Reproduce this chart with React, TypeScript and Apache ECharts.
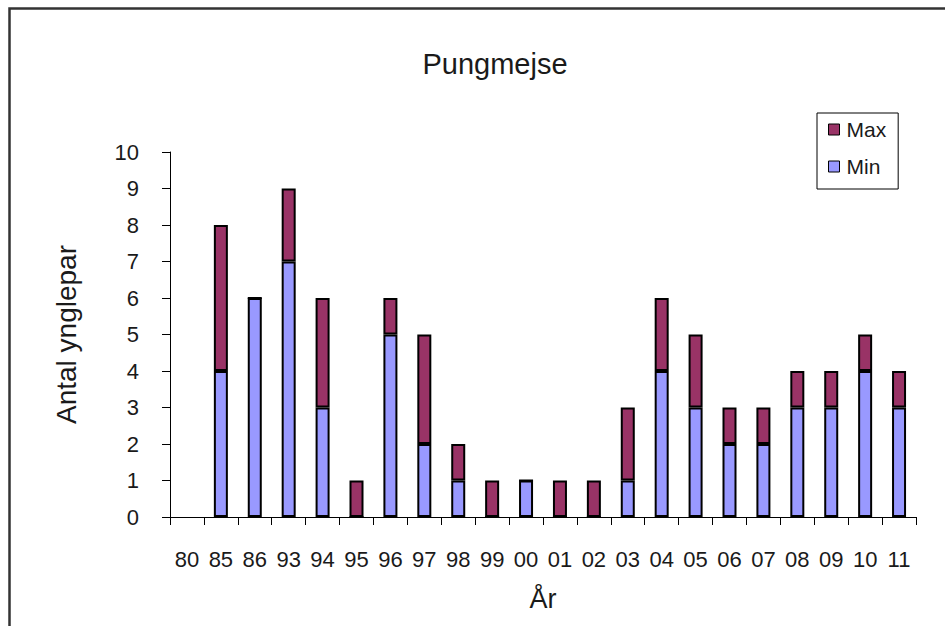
import React, { useEffect, useRef } from "react";
import * as echarts from "echarts";

const years = ["80", "85", "86", "93", "94", "95", "96", "97", "98", "99", "00", "01", "02", "03", "04", "05", "06", "07", "08", "09", "10", "11"];
const minValues = [null, 4, 6, 7, 3, 0, 5, 2, 1, 0, 1, 0, 0, 1, 4, 3, 2, 2, 3, 3, 4, 3];
const maxExtra = [null, 4, 0, 2, 3, 1, 1, 3, 1, 1, 0, 1, 1, 2, 2, 2, 1, 1, 1, 1, 1, 1];
const yTicks = [0, 10, 1];

const MAX_COLOR = "#993366";
const MIN_COLOR = "#9999FF";
const FONT = "'Liberation Sans', Arial, sans-serif";

export default function App() {
  const ref = useRef<HTMLDivElement>(null);
  useEffect(() => {
    if (!ref.current) return;
    const chart = echarts.init(ref.current, null, { renderer: "svg" });
    chart.setOption({
      animation: false,
      backgroundColor: "#ffffff",
      textStyle: { fontFamily: FONT },
      title: {
        text: "Pungmejse",
        left: 490,
        top: 44,
        textAlign: "center",
        textStyle: { fontFamily: FONT, fontSize: 29, fontWeight: "normal", color: "#1a1a1a" },
      },
      legend: {
        orient: "vertical",
        left: 817,
        top: 113,
        padding: [6, 12, 12, 11],
        itemGap: 16,
        itemWidth: 11,
        itemHeight: 11,
        itemStyle: { borderColor: "#000", borderWidth: 1 },
        icon: "rect",
        borderColor: "#000",
        borderWidth: 1,
        backgroundColor: "#fff",
        data: ["Max", "Min"],
        textStyle: { fontFamily: FONT, fontSize: 21, lineHeight: 20, color: "#1a1a1a", padding: [0, 0, 0, 2] },
      },
      grid: { left: 170, right: 29, top: 152, bottom: 109, containLabel: false },
      xAxis: {
        type: "category",
        data: years,
        boundaryGap: true,
        name: "År",
        nameLocation: "middle",
        nameGap: 68,
        nameTextStyle: { fontFamily: FONT, fontSize: 27, color: "#1a1a1a" },
        axisLine: { lineStyle: { color: "#000", width: 1 } },
        axisTick: { show: true, length: 8, alignWithLabel: false, lineStyle: { color: "#000" } },
        axisLabel: { interval: 0, margin: 31, fontFamily: FONT, fontSize: 22, color: "#1a1a1a" },
        splitLine: { show: false },
      },
      yAxis: {
        type: "value",
        min: yTicks[0],
        max: yTicks[1],
        interval: yTicks[2],
        name: "Antal ynglepar",
        nameLocation: "middle",
        nameRotate: 90,
        nameGap: 90,
        nameTextStyle: { fontFamily: FONT, fontSize: 28, color: "#1a1a1a" },
        axisLine: { show: true, lineStyle: { color: "#000", width: 1 } },
        axisTick: { show: true, length: 8, lineStyle: { color: "#000" } },
        axisLabel: { margin: 31, fontFamily: FONT, fontSize: 22, color: "#1a1a1a" },
        splitLine: { show: false },
      },
      series: [
        {
          name: "Min",
          type: "bar",
          stack: "total",
          data: minValues,
          barWidth: 14,
          itemStyle: { color: MIN_COLOR, borderColor: "#000", borderWidth: 2 },
        },
        {
          name: "Max",
          type: "bar",
          stack: "total",
          data: maxExtra,
          barWidth: 14,
          itemStyle: { color: MAX_COLOR, borderColor: "#000", borderWidth: 2 },
        },
      ],
      graphic: [
        {
          type: "rect",
          shape: { x: 9.5, y: 8.5, width: 1000, height: 1000 },
          style: { fill: "none", stroke: "#333", lineWidth: 2.5 },
          silent: true,
          z: 100,
        },
      ],
    });
    return () => chart.dispose();
  }, []);
  return <div ref={ref} style={{ position: "absolute", left: 0, top: 0, width: 945, height: 626 }} />;
}
